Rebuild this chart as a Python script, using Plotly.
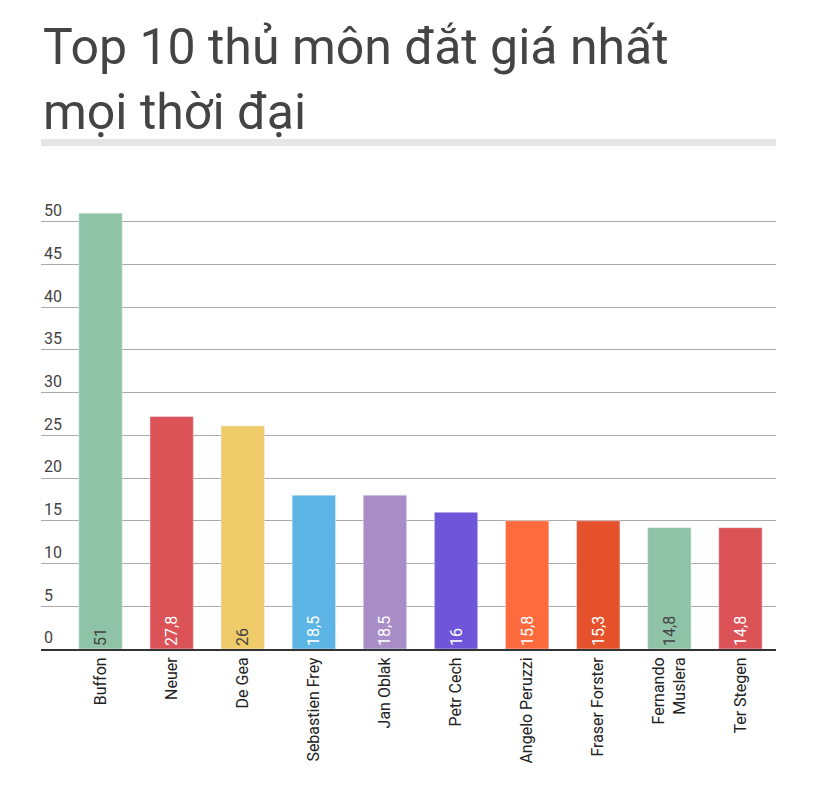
import plotly.graph_objects as go

players = ["Buffon", "Neuer", "De Gea", "Sebastien Frey", "Jan Oblak", "Petr Cech",
           "Angelo Peruzzi", "Fraser Forster", "Fernando<br>Muslera", "Ter Stegen"]
heights = [51, 27.2, 26.1, 18, 18, 16, 15, 15, 14.2, 14.2]
labels = ["51", "27,8", "26", "18,5", "18,5", "16", "15,8", "15,3", "14,8", "14,8"]
colors = ["#8FC3A7", "#DB5357", "#F0CB69", "#5DB5E6", "#A88DC6", "#6E55D9",
          "#FF6B3D", "#E4512B", "#8FC3A7", "#DB5357"]
label_colors = ["#444444", "white", "#444444", "white", "white", "white",
                "white", "white", "#444444", "white"]
y_ticks = [0, 5, 10, 15, 20, 25, 30, 35, 40, 45, 50]

W, H = 813, 801
L, R, T, B = 33, 45, 171, 160
ph = H - T - B

fig = go.Figure(go.Bar(
    x=players, y=heights, text=labels,
    marker_color=colors, width=0.61,
    textposition="inside", insidetextanchor="start", textangle=-90,
    textfont=dict(color=label_colors, size=16, family="Roboto"),
))

fig.update_layout(
    width=W, height=H,
    paper_bgcolor="white", plot_bgcolor="white",
    margin=dict(l=L, r=R, t=T, b=B),
    showlegend=False,
    font=dict(family="Roboto", color="#444444"),
    annotations=[dict(text="Top 10 thủ môn đắt giá nhất<br>mọi thời đại",
                      xref="paper", yref="paper", x=0, y=(H - 8 - B) / ph,
                      xanchor="left", yanchor="top", align="left", showarrow=False,
                      font=dict(size=50, color="#444444", family="Roboto"))],
    shapes=[dict(type="rect", xref="paper", yref="paper", x0=0, x1=1,
                 y0=(H - 138 - B) / ph, y1=(H - 131 - B) / ph,
                 fillcolor="#E6E6E6", line_width=0)],
)
fig.update_xaxes(tickangle=-90, tickfont=dict(size=16, color="#222222"),
                 showline=True, linecolor="#333333", linewidth=2, ticks="")
fig.update_yaxes(range=[0, 55], tickvals=y_ticks, showgrid=True, gridcolor="#AAAAAA",
                 ticklabelposition="inside top", tickfont=dict(size=16, color="#444444"),
                 zeroline=False)

fig.write_html("out.html")
